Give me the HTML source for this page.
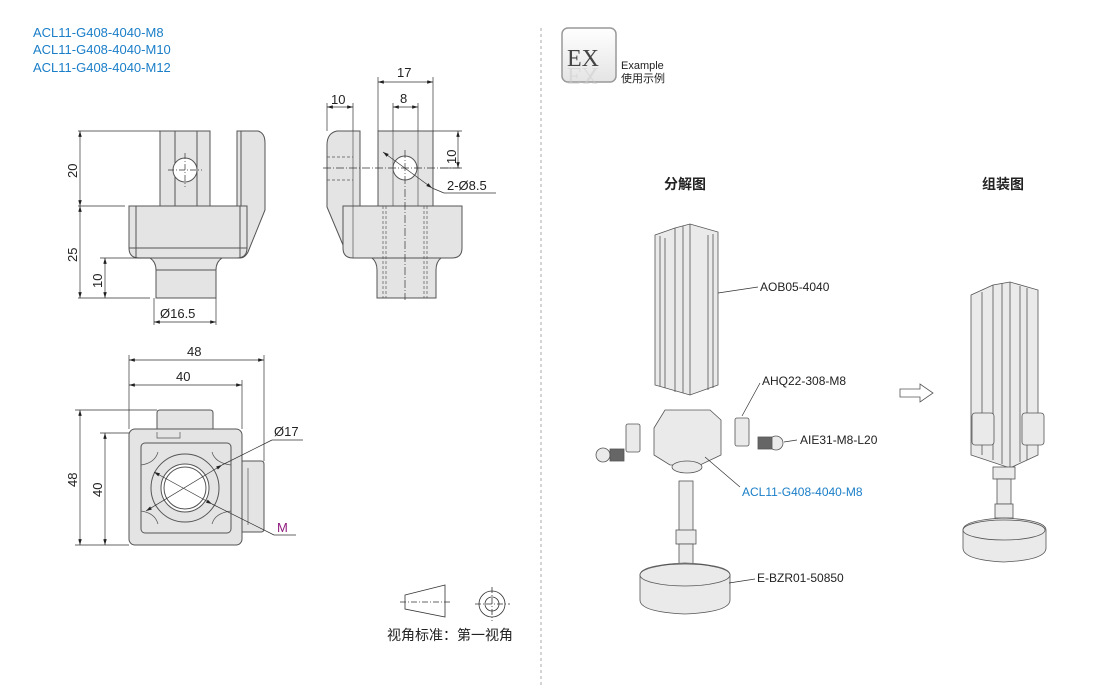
<!DOCTYPE html>
<html><head><meta charset="utf-8"><style>
html,body{margin:0;padding:0;background:#fff;}
svg{display:block;font-family:"Liberation Sans","Noto Sans CJK SC",sans-serif;}
</style></head><body>
<svg width="1110" height="687" viewBox="0 0 1110 687" xmlns="http://www.w3.org/2000/svg">
<defs>
<marker id="a" viewBox="0 0 10 6" refX="10" refY="3" markerWidth="9" markerHeight="5" orient="auto-start-reverse"><path d="M0,0 L10,3 L0,6z" fill="#222"/></marker>
<linearGradient id="g" x1="0" y1="0" x2="0" y2="1"><stop offset="0" stop-color="#fff"/><stop offset="1" stop-color="#e4e4e4"/></linearGradient>
</defs>
<g font-size="13" fill="#1a7ec8">
<text x="33" y="37">ACL11-G408-4040-M8</text>
<text x="33" y="54">ACL11-G408-4040-M10</text>
<text x="33" y="72">ACL11-G408-4040-M12</text>
</g>

<!-- front view -->
<g stroke="#555" stroke-width="1" fill="#e4e4e4">
<rect x="160" y="131" width="50" height="75"/>
<line x1="175" y1="131" x2="175" y2="206"/><line x1="197" y1="131" x2="197" y2="206"/>
<path d="M237,131 H258 Q265,133 265,143 V210 L248,252 Q245,258 240,258 H237z"/>
<line x1="241" y1="131" x2="241" y2="258"/>
<path d="M129,206 H247 V248 Q247,258 237,258 H139 Q129,258 129,248z"/>
<line x1="136" y1="206" x2="136" y2="258"/><line x1="240" y1="206" x2="240" y2="258"/>
<line x1="129" y1="248" x2="247" y2="248"/>
<path d="M150,258 Q156,262 156,270 V298 H216 V270 Q216,262 222,258z"/>
<line x1="156" y1="270" x2="216" y2="270"/>
<circle cx="185" cy="170" r="12" fill="#fff"/>
</g>
<g stroke="#333" stroke-width="0.7" fill="none">
<line x1="185" y1="153" x2="185" y2="187" stroke-dasharray="6,2,1,2"/><line x1="168" y1="170" x2="202" y2="170" stroke-dasharray="6,2,1,2"/>
<line x1="78" y1="131" x2="160" y2="131"/><line x1="78" y1="206" x2="125" y2="206"/><line x1="78" y1="298" x2="150" y2="298"/><line x1="100" y1="258" x2="150" y2="258"/>
<line x1="80" y1="131" x2="80" y2="206" marker-start="url(#a)" marker-end="url(#a)"/>
<line x1="80" y1="206" x2="80" y2="298" marker-start="url(#a)" marker-end="url(#a)"/>
<line x1="105" y1="258" x2="105" y2="298" marker-start="url(#a)" marker-end="url(#a)"/>
<line x1="154" y1="298" x2="154" y2="325"/><line x1="216" y1="298" x2="216" y2="325"/>
<line x1="154" y1="322" x2="216" y2="322" marker-start="url(#a)" marker-end="url(#a)"/>
</g>
<g font-size="13" fill="#222">
<text transform="translate(77,178) rotate(-90)">20</text>
<text transform="translate(77,262) rotate(-90)">25</text>
<text transform="translate(102,288) rotate(-90)">10</text>
<text x="160" y="318">Ø16.5</text>
</g>

<!-- side view -->
<g stroke="#555" stroke-width="1" fill="#e4e4e4">
<path d="M353,131 H337 Q327,133 327,145 V207 L343,245 Q350,258 360,258 V131z"/>
<rect x="378" y="131" width="55" height="75"/>
<path d="M343,206 H462 V248 Q462,258 452,258 H353 Q343,258 343,248z"/>
<path d="M372,258 Q377,262 377,270 V298 H436 V270 Q436,262 441,258z"/>
<circle cx="405" cy="168" r="12" fill="#fff"/>
</g>
<g stroke="#555" stroke-width="0.7" fill="none">
<line x1="353" y1="131" x2="353" y2="258"/>
<line x1="393" y1="131" x2="393" y2="206"/><line x1="418" y1="131" x2="418" y2="206"/>
<g stroke-dasharray="3,2"><line x1="383" y1="206" x2="383" y2="298"/><line x1="386" y1="206" x2="386" y2="298"/><line x1="424" y1="206" x2="424" y2="298"/><line x1="427" y1="206" x2="427" y2="298"/>
<line x1="327" y1="157" x2="353" y2="157"/><line x1="327" y1="180" x2="353" y2="180"/></g>
<line x1="323" y1="168" x2="460" y2="168" stroke-dasharray="8,2,1,2" stroke="#333"/>
<line x1="405" y1="150" x2="405" y2="300" stroke-dasharray="8,2,1,2" stroke="#333"/>
</g>
<g stroke="#333" stroke-width="0.7" fill="none">
<line x1="327" y1="103" x2="327" y2="131"/><line x1="353" y1="103" x2="353" y2="131"/>
<line x1="327" y1="107" x2="353" y2="107" marker-start="url(#a)" marker-end="url(#a)"/>
<line x1="378" y1="77" x2="378" y2="131"/><line x1="433" y1="77" x2="433" y2="131"/>
<line x1="378" y1="82" x2="433" y2="82" marker-start="url(#a)" marker-end="url(#a)"/>
<line x1="393" y1="103" x2="393" y2="131"/><line x1="418" y1="103" x2="418" y2="131"/>
<line x1="393" y1="107" x2="418" y2="107" marker-start="url(#a)" marker-end="url(#a)"/>
<line x1="433" y1="131" x2="462" y2="131"/><line x1="440" y1="168" x2="462" y2="168"/>
<line x1="458" y1="131" x2="458" y2="168" marker-start="url(#a)" marker-end="url(#a)"/>
<line x1="383" y1="152" x2="432" y2="188" marker-start="url(#a)" marker-end="url(#a)"/>
<line x1="432" y1="188" x2="444" y2="193"/><line x1="444" y1="193" x2="496" y2="193"/>
</g>
<g font-size="13" fill="#222">
<text x="331" y="104">10</text><text x="397" y="77">17</text><text x="400" y="103">8</text>
<text transform="translate(456,164) rotate(-90)">10</text>
<text x="447" y="190">2-Ø8.5</text>
</g>

<!-- top view -->
<g stroke="#555" stroke-width="1" fill="#e4e4e4">
<path d="M157,413 Q157,410 160,410 H210 Q213,410 213,413 V432 H157z"/>
<path d="M242,461 H261 Q264,461 264,464 V529 Q264,532 261,532 H242z"/>
<rect x="129" y="429" width="113" height="116" rx="6"/>
<rect x="141" y="443" width="90" height="90" rx="4"/>
<circle cx="185" cy="488" r="34"/>
<circle cx="185" cy="488" r="24" fill="#fff"/>
<circle cx="185" cy="488" r="21" fill="#fff"/>
</g>
<g stroke="#555" stroke-width="0.7" fill="none">
<path d="M157,432 V438 H180 V432"/><path d="M248,468 V525"/>
<path d="M141,465 Q155,463 158,452 M212,452 Q215,463 231,465 M141,511 Q155,513 158,524 M212,524 Q215,513 231,511"/>
</g>
<g stroke="#333" stroke-width="0.7" fill="none">
<line x1="129" y1="355" x2="129" y2="429"/><line x1="264" y1="355" x2="264" y2="461"/><line x1="242" y1="380" x2="242" y2="429"/>
<line x1="129" y1="360" x2="264" y2="360" marker-start="url(#a)" marker-end="url(#a)"/>
<line x1="129" y1="385" x2="242" y2="385" marker-start="url(#a)" marker-end="url(#a)"/>
<line x1="75" y1="410" x2="157" y2="410"/><line x1="100" y1="433" x2="129" y2="433"/><line x1="75" y1="545" x2="129" y2="545"/>
<line x1="80" y1="410" x2="80" y2="545" marker-start="url(#a)" marker-end="url(#a)"/>
<line x1="105" y1="433" x2="105" y2="545" marker-start="url(#a)" marker-end="url(#a)"/>
<line x1="146" y1="511" x2="222" y2="465" marker-start="url(#a)" marker-end="url(#a)"/>
<line x1="222" y1="465" x2="272" y2="440"/><line x1="272" y1="440" x2="303" y2="440"/>
<line x1="154" y1="472" x2="212" y2="504" marker-start="url(#a)" marker-end="url(#a)"/>
<line x1="212" y1="504" x2="274" y2="535"/><line x1="274" y1="535" x2="296" y2="535"/>
</g>
<g font-size="13" fill="#222">
<text x="187" y="356">48</text><text x="176" y="381">40</text>
<text transform="translate(77,487) rotate(-90)">48</text>
<text transform="translate(102,497) rotate(-90)">40</text>
<text x="274" y="436">Ø17</text>
<text x="277" y="532" fill="#8e1a7e">M</text>
</g>

<!-- projection symbol -->
<g stroke="#333" stroke-width="0.8" fill="none">
<path d="M405,595 L445,585 V617 L405,609z"/>
<line x1="400" y1="602" x2="450" y2="602" stroke-dasharray="6,2,1,2"/>
<circle cx="492" cy="604" r="13"/><circle cx="492" cy="604" r="7"/>
<line x1="475" y1="604" x2="510" y2="604" stroke-dasharray="6,2,1,2"/><line x1="492" y1="587" x2="492" y2="621" stroke-dasharray="6,2,1,2"/>
</g>
<text x="387" y="640" font-size="14" fill="#222">视角标准：第一视角</text>

<line x1="541" y1="28" x2="541" y2="687" stroke="#aaa" stroke-dasharray="3,3"/>

<!-- EX -->
<rect x="562" y="28" width="54" height="54" rx="6" fill="url(#g)" stroke="#999" stroke-width="1.5"/>
<text x="567" y="66" font-family="Liberation Serif,serif" font-size="24" fill="#444">EX</text>
<text x="567" y="68" transform="translate(0,136) scale(1,-1)" font-family="Liberation Serif,serif" font-size="24" fill="#ccc" opacity="0.5">EX</text>
<text x="621" y="69" font-size="11" fill="#222">Example</text>
<text x="621" y="82" font-size="11" fill="#222">使用示例</text>

<text x="664" y="189" font-size="14" font-weight="bold" fill="#222">分解图</text>
<text x="982" y="189" font-size="14" font-weight="bold" fill="#222">组装图</text>

<!-- exploded -->
<g stroke="#555" stroke-width="0.8" fill="#eaeaea">
<path d="M655,235 L675,228 L690,224 L718,232 V385 L690,395 L655,385z"/>
<path d="M675,228 V392 M690,224 V395 M665,238 V388 M708,235 V390 M660,236 V386 M683,226 V393 M713,234 V388" fill="none"/>
<path d="M654,428 L665,410 H710 L721,420 V455 L700,465 H670 L654,455z"/>
<ellipse cx="687" cy="467" rx="15" ry="6"/>
<rect x="626" y="424" width="14" height="28" rx="2"/><rect x="735" y="418" width="14" height="28" rx="2"/>
<circle cx="603" cy="455" r="7"/><rect x="610" y="449" width="14" height="12" fill="#666"/>
<circle cx="776" cy="443" r="7"/><rect x="758" y="437" width="14" height="12" fill="#666"/>
<rect x="679" y="481" width="14" height="50"/>
<rect x="676" y="530" width="20" height="14"/>
<rect x="679" y="544" width="14" height="20"/>
<path d="M640,575 Q640,565 685,563 Q730,565 730,575 V600 Q730,612 685,614 Q640,612 640,600z"/>
<ellipse cx="685" cy="575" rx="45" ry="11"/>
</g>
<g stroke="#333" stroke-width="0.7" fill="none">
<path d="M718,293 L758,287 M742,416 L760,383 M784,442 L797,440 M705,457 L740,487 M729,583 L755,579"/>
</g>
<g font-size="12" fill="#222">
<text x="760" y="291">AOB05-4040</text>
<text x="762" y="385">AHQ22-308-M8</text>
<text x="800" y="444">AIE31-M8-L20</text>
<text x="742" y="496" fill="#1a7ec8">ACL11-G408-4040-M8</text>
<text x="757" y="582">E-BZR01-50850</text>
</g>

<!-- arrow -->
<path d="M900,389 H920 V384 L933,393 L920,402 V397 H900z" fill="#fff" stroke="#555" stroke-width="0.8"/>

<!-- assembled -->
<g stroke="#555" stroke-width="0.8" fill="#eaeaea">
<path d="M971,295 L993,285 L1010,282 L1038,290 V455 L1010,468 L971,455z"/>
<path d="M993,285 V460 M1010,282 V468 M982,292 V455 M1027,288 V460 M1002,283 V464 M1020,286 V462" fill="none"/>
<rect x="972" y="413" width="22" height="32" rx="3"/><rect x="1022" y="413" width="22" height="32" rx="3"/>
<rect x="993" y="467" width="22" height="12"/>
<rect x="997" y="479" width="14" height="25"/>
<rect x="995" y="504" width="18" height="14"/>
<path d="M963,530 Q963,520 1004,518 Q1046,520 1046,530 V548 Q1046,560 1004,562 Q963,560 963,548z"/>
<ellipse cx="1004" cy="530" rx="41" ry="10"/>
</g>
</svg>
</body></html>
